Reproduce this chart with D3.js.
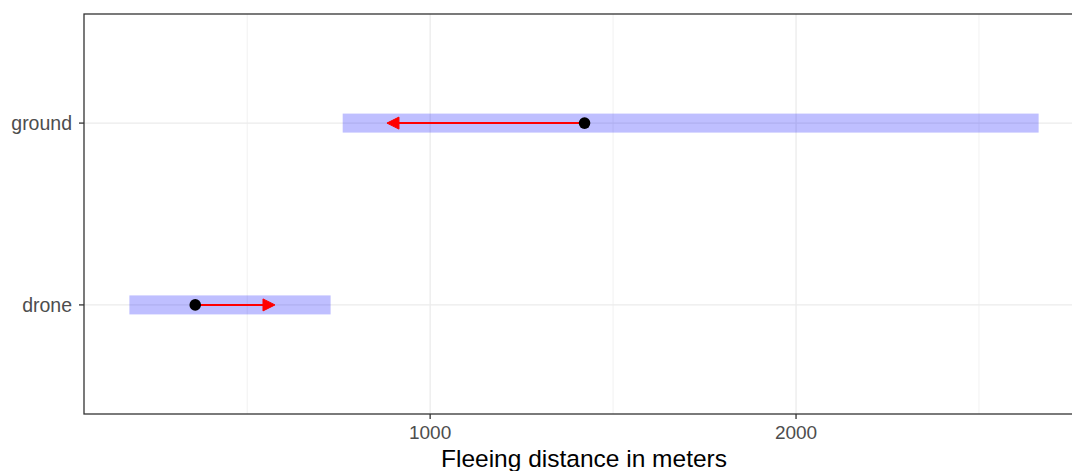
<!DOCTYPE html>
<html>
<head>
<meta charset="utf-8">
<script src="https://cdn.jsdelivr.net/npm/d3@7"></script>
<style>
  html, body { margin: 0; padding: 0; background: #fff; }
  svg { display: block; }
  text { font-family: "Liberation Sans", Arial, sans-serif; }
</style>
</head>
<body>
<div id="chart"></div>
<script>
// Fleeing distance by approach type
const categories = ["drone", "ground"];
const rangeLow   = [178, 761];     // shaded interval start (m)
const rangeHigh  = [728, 2663];    // shaded interval end (m)
const startValue = [358, 1422];    // point (m)
const endValue   = [576, 882];     // arrow tip (m)
const xTicks     = [1000, 2000];
const xMinor     = [500, 1500, 2500];
const xDomain    = [54, 2787];

const W = 1072, H = 471;
const margin = { left: 84, right: -12, top: 14, bottom: 57 };

const svg = d3.select("#chart").append("svg")
  .attr("width", W).attr("height", H);

const x = d3.scaleLinear().domain(xDomain).range([margin.left, W - margin.right]);
const y = d3.scalePoint().domain(categories)
  .range([H - margin.bottom, margin.top]).padding(0.6);

const plotL = margin.left, plotR = W - margin.right;
const plotT = margin.top, plotB = H - margin.bottom;

// grid
const grid = svg.append("g");
grid.selectAll(".minor").data(xMinor).join("line")
  .attr("x1", d => x(d)).attr("x2", d => x(d))
  .attr("y1", plotT).attr("y2", plotB)
  .attr("stroke", "#ebebeb").attr("stroke-width", 0.7);
grid.selectAll(".major").data(xTicks).join("line")
  .attr("x1", d => x(d)).attr("x2", d => x(d))
  .attr("y1", plotT).attr("y2", plotB)
  .attr("stroke", "#ebebeb").attr("stroke-width", 1.3);
grid.selectAll(".ymajor").data(categories).join("line")
  .attr("x1", plotL).attr("x2", plotR)
  .attr("y1", d => y(d)).attr("y2", d => y(d))
  .attr("stroke", "#ebebeb").attr("stroke-width", 1.3);

// shaded ranges
svg.append("g").selectAll("rect").data(categories).join("rect")
  .attr("x", (d, i) => x(rangeLow[i]))
  .attr("width", (d, i) => x(rangeHigh[i]) - x(rangeLow[i]))
  .attr("y", d => y(d) - 9.5)
  .attr("height", 19)
  .attr("fill", "blue").attr("fill-opacity", 0.25);

// arrows
const arrows = svg.append("g");
categories.forEach((c, i) => {
  const x0 = x(startValue[i]), x1 = x(endValue[i]), yy = y(c);
  const dir = Math.sign(x1 - x0);
  const head = 12, half = 6;
  arrows.append("line")
    .attr("x1", x0).attr("x2", x1 - dir * head * 0.5)
    .attr("y1", yy).attr("y2", yy)
    .attr("stroke", "red").attr("stroke-width", 2);
  arrows.append("path")
    .attr("d", `M${x1},${yy} L${x1 - dir * head},${yy - half} L${x1 - dir * head},${yy + half} Z`)
    .attr("fill", "red").attr("stroke", "red").attr("stroke-width", 1);
});

// points
svg.append("g").selectAll("circle").data(categories).join("circle")
  .attr("cx", (d, i) => x(startValue[i]))
  .attr("cy", d => y(d))
  .attr("r", 5.8)
  .attr("fill", "black");

// panel border
svg.append("rect")
  .attr("x", plotL).attr("y", plotT)
  .attr("width", plotR - plotL).attr("height", plotB - plotT)
  .attr("fill", "none").attr("stroke", "#333").attr("stroke-width", 1.3);

// x axis
const xa = svg.append("g");
xa.selectAll("line").data(xTicks).join("line")
  .attr("x1", d => x(d)).attr("x2", d => x(d))
  .attr("y1", plotB).attr("y2", plotB + 5)
  .attr("stroke", "#333").attr("stroke-width", 1.3);
xa.selectAll("text").data(xTicks).join("text")
  .attr("x", d => x(d)).attr("y", plotB + 25)
  .attr("text-anchor", "middle")
  .attr("font-size", 19).attr("fill", "#4d4d4d")
  .text(d => d);

// y axis
const ya = svg.append("g");
ya.selectAll("line").data(categories).join("line")
  .attr("x1", plotL - 5).attr("x2", plotL)
  .attr("y1", d => y(d)).attr("y2", d => y(d))
  .attr("stroke", "#333").attr("stroke-width", 1.3);
ya.selectAll("text").data(categories).join("text")
  .attr("x", plotL - 12).attr("y", d => y(d))
  .attr("dy", "0.35em")
  .attr("text-anchor", "end")
  .attr("font-size", 19.5).attr("fill", "#4d4d4d")
  .text(d => d);

// axis title
svg.append("text")
  .attr("x", (plotL + plotR) / 2).attr("y", 467)
  .attr("text-anchor", "middle")
  .attr("font-size", 24.5).attr("fill", "black")
  .text("Fleeing distance in meters");
</script>
</body>
</html>
